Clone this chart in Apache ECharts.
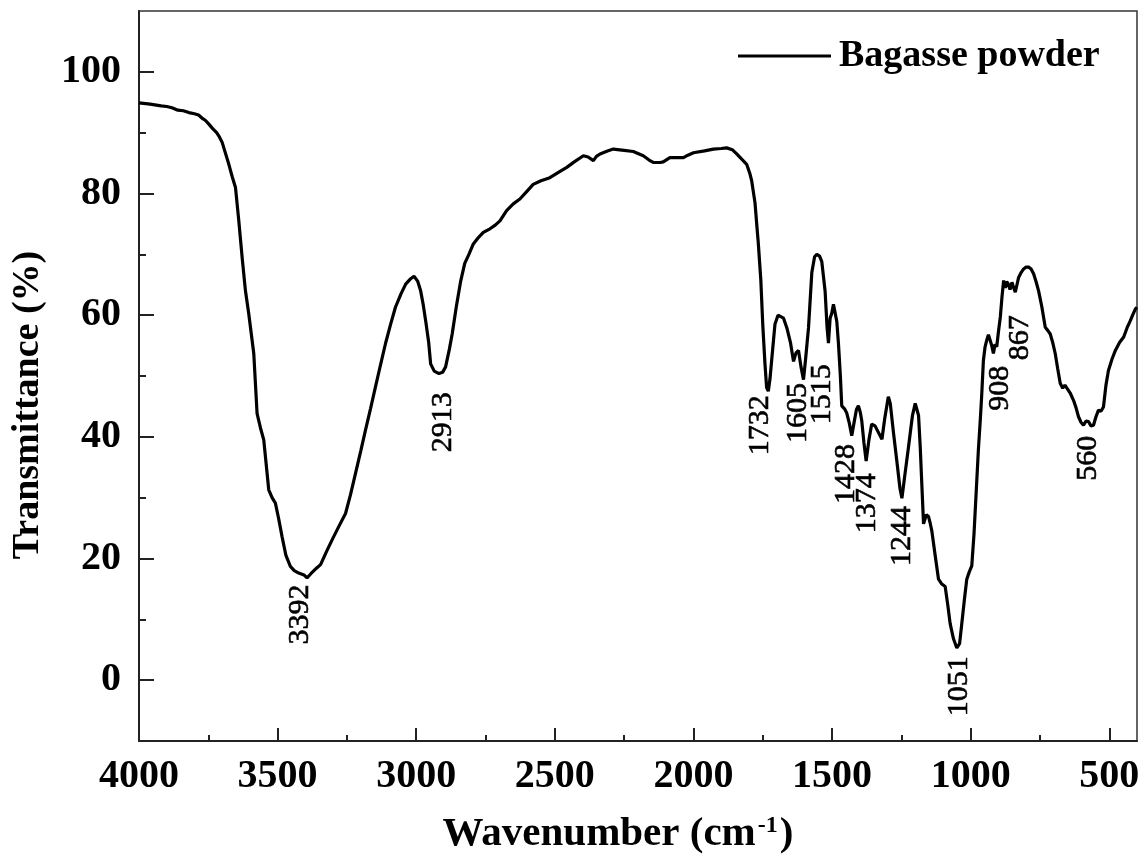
<!DOCTYPE html>
<html>
<head>
<meta charset="utf-8">
<script src="https://cdn.jsdelivr.net/npm/echarts@6/dist/echarts.min.js"></script>
<style>html,body{margin:0;padding:0;background:#fff;}#c{width:1146px;height:863px;}</style>
</head>
<body>
<div id="c"></div>
<script>
// Wavenumber (cm-1), descending
const wavenumbers = [4000,3960,3920,3900,3881,3860,3840,3820,3800,3785,3770,3760,3748,3735,3720,3710,3700,3688,3676,3664,3652,3640,3628,3616,3604,3586,3574,3562,3550,3532,3520,3508,3496,3484,3470,3454,3440,3424,3405,3394,3380,3360,3345,3325,3303,3280,3255,3237,3219,3200,3183,3165,3147,3130,3111,3093,3075,3055,3038,3020,3008,2995,2984,2975,2966,2955,2948,2935,2918,2905,2894,2880,2870,2855,2840,2825,2810,2794,2775,2758,2734,2715,2698,2674,2650,2626,2600,2578,2550,2518,2490,2457,2430,2397,2380,2361,2350,2337,2310,2289,2250,2217,2181,2160,2145,2120,2109,2085,2060,2036,2020,2000,1960,1928,1900,1880,1860,1844,1825,1808,1796,1790,1778,1770,1766,1757,1750,1742,1736,1730,1724,1717,1706,1695,1688,1675,1663,1650,1639,1630,1621,1612,1603,1595,1585,1573,1563,1555,1545,1537,1525,1518,1513,1507,1501,1495,1489,1483,1477,1470,1465,1455,1447,1438,1429,1420,1412,1405,1398,1393,1385,1377,1367,1357,1345,1338,1320,1310,1297,1290,1279,1265,1255,1248,1238,1224,1210,1200,1194,1188,1182,1176,1170,1160,1152,1146,1140,1128,1116,1104,1092,1083,1074,1062,1050,1040,1032,1022,1014,1005,996,988,980,972,965,960,954,948,942,936,930,924,918,912,906,900,893,887,881,875,870,864,858,851,845,839,833,827,818,809,800,791,782,773,764,755,743,731,722,713,704,695,686,677,668,660,653,641,629,620,611,602,593,584,575,566,557,548,539,530,521,512,503,490,478,463,448,436,424,415,406,400];
// Transmittance (%)
const transmittance = [94.9,94.7,94.4,94.3,94.1,93.7,93.6,93.3,93.1,92.9,92.3,92.0,91.4,90.7,90.0,89.3,88.4,86.6,84.8,82.8,81.0,75.5,69.5,64.0,60.2,53.7,43.8,41.5,39.5,31.3,30.0,29.1,26.5,23.6,20.5,18.7,18.0,17.6,17.3,16.8,17.5,18.4,19.0,21.0,23.1,25.2,27.4,30.5,34.0,37.7,41.1,44.6,48.2,51.6,55.3,58.4,61.3,63.5,65.1,66.0,66.4,65.6,64.0,61.8,59.1,55.5,52.0,50.8,50.4,50.6,51.5,54.5,57.0,61.5,65.5,68.5,70.0,71.7,72.8,73.6,74.2,74.8,75.5,77.2,78.3,79.1,80.4,81.5,82.1,82.6,83.4,84.3,85.2,86.2,86.0,85.4,86.1,86.5,87.0,87.3,87.1,86.9,86.2,85.5,85.1,85.1,85.2,85.9,85.9,85.9,86.3,86.7,87.0,87.3,87.4,87.5,87.2,86.5,85.6,84.8,83.2,82.1,78.5,74.0,71.8,65.8,58.5,52.0,48.1,47.5,49.5,53.0,58.5,60.0,60.3,59.5,57.9,55.5,52.4,53.8,54.2,51.5,49.4,53.0,57.9,67.0,69.6,70.0,69.7,68.8,63.9,58.0,55.4,59.5,60.3,61.8,61.5,59.0,55.4,50.0,45.1,44.6,43.9,42.3,40.2,42.5,44.5,45.1,44.0,42.7,39.0,36.0,39.5,42.1,41.8,41.5,39.6,43.0,46.6,45.5,40.9,35.5,31.5,29.9,33.5,38.4,43.5,45.5,45.7,43.5,38.4,32.0,25.7,27.2,26.9,25.8,24.5,20.5,16.6,15.8,15.4,12.5,9.3,6.8,5.3,6.0,9.3,13.5,16.6,17.8,18.8,24.0,31.0,38.0,43.0,47.0,52.6,54.8,55.9,56.8,56.9,55.0,53.7,55.2,54.8,57.2,59.7,63.0,65.7,64.5,65.5,65.1,64.2,65.4,64.5,63.8,65.0,66.2,67.0,67.6,67.9,67.9,67.6,66.8,65.5,64.0,61.3,58.0,57.5,56.9,55.5,53.7,51.2,48.8,48.0,48.5,48.2,47.2,46.0,44.8,43.3,42.4,41.9,42.6,42.5,41.8,41.9,43.3,44.4,44.2,44.9,48.5,50.9,52.8,54.2,55.5,56.4,57.9,59.1,60.1,61.0,61.3];
// Peak annotation texts and their anchor positions (label centres, data units)
const peakLabels = ['3392','2913','1732','1605','1515','1428','1374','1244','1051','908','867','560'];
const peakLabelWn = [3420,2904,1760,1621,1537,1449,1375,1248,1040,893,821,575];
const peakLabelT = [10.8,42.4,41.9,43.9,47.0,33.9,29.1,23.7,-1.0,48.0,56.3,36.5];
// Tick labels
const xMajorTicks = [500,1000,1500,2000,2500,3000,3500,4000];
const xMinorTicks = [750,1250,1750,2250,2750,3250,3750];
const yMajorTicks = [0,20,40,60,80,100];
const yMinorTicks = [10,30,50,70,90];
const seriesName = 'Bagasse powder';

const curve = wavenumbers.map((w, i) => [w, transmittance[i]]);
const labels = peakLabels.map((t, i) => [peakLabelWn[i], peakLabelT[i], t]);

const FONT = '"Liberation Serif", "Times New Roman", serif';
const AX = '#222';

const chart = echarts.init(document.getElementById('c'), null, {renderer: 'canvas'});
chart.setOption({
  animation: false,
  backgroundColor: '#fff',
  grid: {left: 139, right: 9, top: 11, bottom: 122, show: true, borderColor: '#333', borderWidth: 1.5, containLabel: false},
  legend: {
    data: [{name: seriesName, icon: 'rect'}], left: 733, top: 32, itemWidth: 93, itemHeight: 3, itemGap: 0,
    itemStyle: {color: '#000'},
    textStyle: {fontFamily: FONT, fontWeight: 'bold', fontSize: 38, color: '#000', padding: [0,0,0,3]}
  },
  xAxis: [{
    type: 'value', min: 400, max: 4000, inverse: true,
    axisLine: {show: true, onZero: false, lineStyle: {color: AX, width: 2}},
    axisTick: {show: true, inside: true, length: 13, lineStyle: {color: AX, width: 2}, customValues: xMajorTicks},
    axisLabel: {show: true, margin: 16, fontFamily: FONT, fontWeight: 'bold', fontSize: 40, color: '#000',
      customValues: xMajorTicks, formatter: v => String(v)},
    splitLine: {show: false},
    name: '{a|Wavenumber (cm}{s|-1}{a|)}', nameLocation: 'middle', nameGap: 73,
    nameTextStyle: {
      padding: [0, 40, 0, 0],
      rich: {
        a: {fontFamily: FONT, fontWeight: 'bold', fontSize: 41, color: '#000'},
        s: {fontFamily: FONT, fontWeight: 'bold', fontSize: 24, color: '#000', verticalAlign: 'top', padding: [0, 2, 14, 2]}
      }
    }
  }, {
    type: 'value', min: 400, max: 4000, inverse: true, position: 'bottom',
    axisLine: {show: false, onZero: false},
    axisTick: {show: true, inside: true, length: 6, lineStyle: {color: AX, width: 2}, customValues: xMinorTicks},
    axisLabel: {show: false},
    splitLine: {show: false}
  }],
  yAxis: [{
    type: 'value', min: -10, max: 110,
    axisLine: {show: true, onZero: false, lineStyle: {color: AX, width: 2}},
    axisTick: {show: true, inside: true, length: 15, lineStyle: {color: AX, width: 2}, customValues: yMajorTicks},
    axisLabel: {show: true, margin: 18, fontFamily: FONT, fontWeight: 'bold', fontSize: 40, color: '#000', customValues: yMajorTicks},
    splitLine: {show: false},
    name: 'Transmittance (%)', nameLocation: 'middle', nameGap: 92,
    nameTextStyle: {fontFamily: FONT, fontWeight: 'bold', fontSize: 38, color: '#000', padding: [0, 58, 0, 0]}
  }, {
    type: 'value', min: -10, max: 110, position: 'left',
    axisLine: {show: false, onZero: false},
    axisTick: {show: true, inside: true, length: 7, lineStyle: {color: AX, width: 2}, customValues: yMinorTicks},
    axisLabel: {show: false},
    splitLine: {show: false}
  }],
  series: [{
    name: seriesName, type: 'line', data: curve, xAxisIndex: 0, yAxisIndex: 0,
    showSymbol: false, symbol: 'none', smooth: false,
    lineStyle: {color: '#000', width: 3.2}, itemStyle: {color: '#000'}
  }, {
    name: 'peaks', type: 'scatter', data: labels, xAxisIndex: 0, yAxisIndex: 0,
    symbolSize: 1, itemStyle: {color: '#fff', opacity: 1}, silent: true,
    label: {show: true, position: 'inside', rotate: 90, formatter: p => p.data[2],
      fontFamily: FONT, fontSize: 30, color: '#000', opacity: 1,
      textBorderColor: '#000', textBorderWidth: 0.6}
  }]
});
</script>
</body>
</html>
